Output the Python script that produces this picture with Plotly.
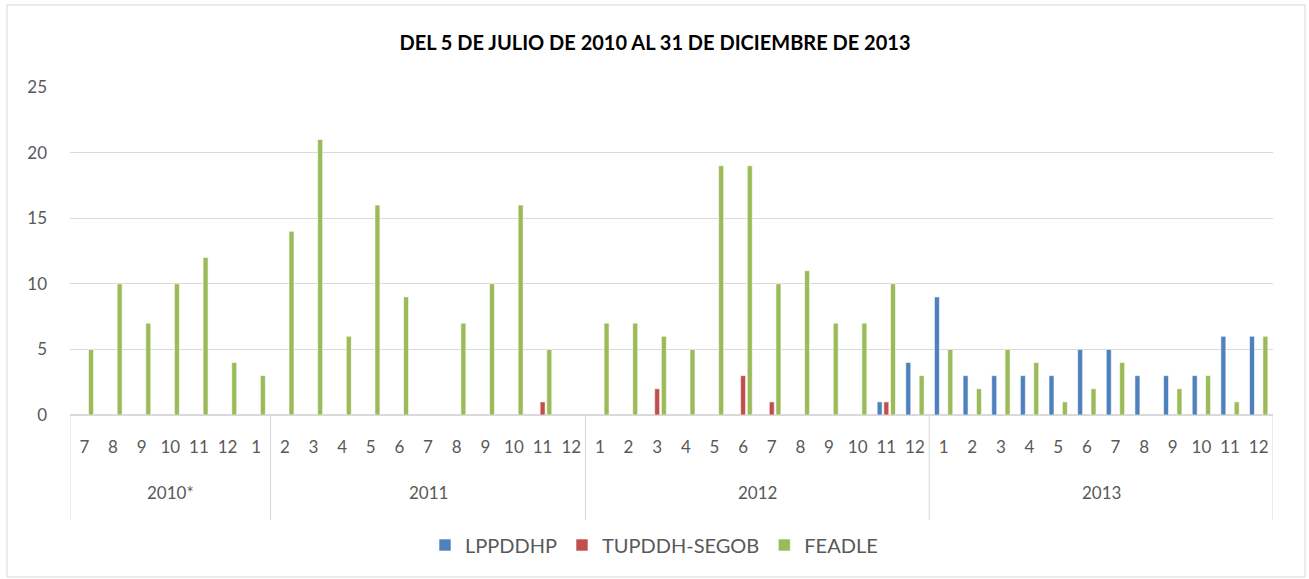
import plotly.graph_objects as go

years = ["2010*", "2011", "2012", "2013"]
months_per_year = [
    ["7", "8", "9", "10", "11", "12", "1"],
    ["2", "3", "4", "5", "6", "7", "8", "9", "10", "11", "12"],
    ["1", "2", "3", "4", "5", "6", "7", "8", "9", "10", "11", "12"],
    ["1", "2", "3", "4", "5", "6", "7", "8", "9", "10", "11", "12"],
]

lppddhp = [0, 0, 0, 0, 0, 0, 0,
           0, 0, 0, 0, 0, 0, 0, 0, 0, 0, 0,
           0, 0, 0, 0, 0, 0, 0, 0, 0, 0, 1, 4,
           9, 3, 3, 3, 3, 5, 5, 3, 3, 3, 6, 6]
tupddh = [0, 0, 0, 0, 0, 0, 0,
          0, 0, 0, 0, 0, 0, 0, 0, 0, 1, 0,
          0, 0, 2, 0, 0, 3, 1, 0, 0, 0, 1, 0,
          0, 0, 0, 0, 0, 0, 0, 0, 0, 0, 0, 0]
feadle = [5, 10, 7, 10, 12, 4, 3,
          14, 21, 6, 16, 9, 0, 7, 10, 16, 5, 0,
          7, 7, 6, 5, 19, 19, 10, 11, 7, 7, 10, 3,
          5, 2, 5, 4, 1, 2, 4, 0, 2, 3, 1, 6]

month_labels = [m for ms in months_per_year for m in ms]
xs = list(range(len(month_labels)))

W, H = 1309, 579
L, R, T, B = 70, 36, 87, 164
pw, ph = W - L - R, H - T - B

def py(px):  # pixel y -> paper y
    return (H - B - px) / ph

def pxx(px):  # pixel x -> paper x
    return (px - L) / pw

fig = go.Figure()
series = [("LPPDDHP", lppddhp, "#4F81BD"),
          ("TUPDDH-SEGOB", tupddh, "#C0504D"),
          ("FEADLE", feadle, "#9BBB59")]
for name, vals, col in series:
    fig.add_trace(go.Bar(x=xs, y=[v if v else None for v in vals], name=name,
                         marker_color=col,
                         marker_line=dict(color="white", width=0.6)))

shapes = []
b = -0.5
bounds = [b]
for ms in months_per_year:
    b += len(ms)
    bounds.append(b)
for bx in bounds:
    shapes.append(dict(type="line", xref="x", yref="paper", x0=bx, x1=bx,
                       y0=0, y1=py(520), line=dict(color="#D9D9D9", width=1)))
shapes.append(dict(type="rect", xref="paper", yref="paper",
                   x0=pxx(7), x1=pxx(1305), y0=py(577), y1=py(5),
                   line=dict(color="#D9D9D9", width=1)))

annotations = []
start = 0
for yr, ms in zip(years, months_per_year):
    center = start + (len(ms) - 1) / 2
    annotations.append(dict(x=center, y=py(492), xref="x", yref="paper",
                            text=yr, showarrow=False,
                            font=dict(family="Lato", size=17, color="#595959"),
                            xanchor="center", yanchor="middle"))
    start += len(ms)

fig.update_layout(
    width=W, height=H,
    margin=dict(l=L, r=R, t=T, b=B),
    paper_bgcolor="white", plot_bgcolor="white",
    barmode="group", bargap=0.30, bargroupgap=0.25,
    title=dict(text="<b>DEL 5 DE JULIO DE 2010 AL 31 DE DICIEMBRE DE 2013</b>",
               x=655 / W, xanchor="center",
               y=1 - 43 / H, yanchor="middle",
               font=dict(family="Lato", size=20, color="#000000")),
    font=dict(family="Lato", size=17, color="#595959"),
    xaxis=dict(tickmode="array", tickvals=xs, ticktext=month_labels,
               range=[-0.5, len(xs) - 0.5], showgrid=False,
               showline=True, linecolor="#D9D9D9", linewidth=1,
               ticks="", ticklabelstandoff=17,
               tickfont=dict(family="Lato", size=17, color="#595959"),
               fixedrange=True),
    yaxis=dict(range=[0, 25], tickvals=[0, 5, 10, 15, 20, 25],
               showgrid=True, gridcolor="#D9D9D9", gridwidth=1,
               zeroline=True, zerolinecolor="#D9D9D9",
               ticklabelstandoff=22,
               tickfont=dict(family="Lato", size=17, color="#595959")),
    legend=dict(orientation="h", x=pxx(654), xanchor="center",
                y=py(545), yanchor="middle",
                font=dict(family="Lato", size=20, color="#595959"),
                itemwidth=30, traceorder="normal"),
    shapes=shapes, annotations=annotations,
)

fig.write_html("out.html", config={"displayModeBar": False},
               post_script="document.body.style.margin='0';document.body.style.overflow='hidden';")
